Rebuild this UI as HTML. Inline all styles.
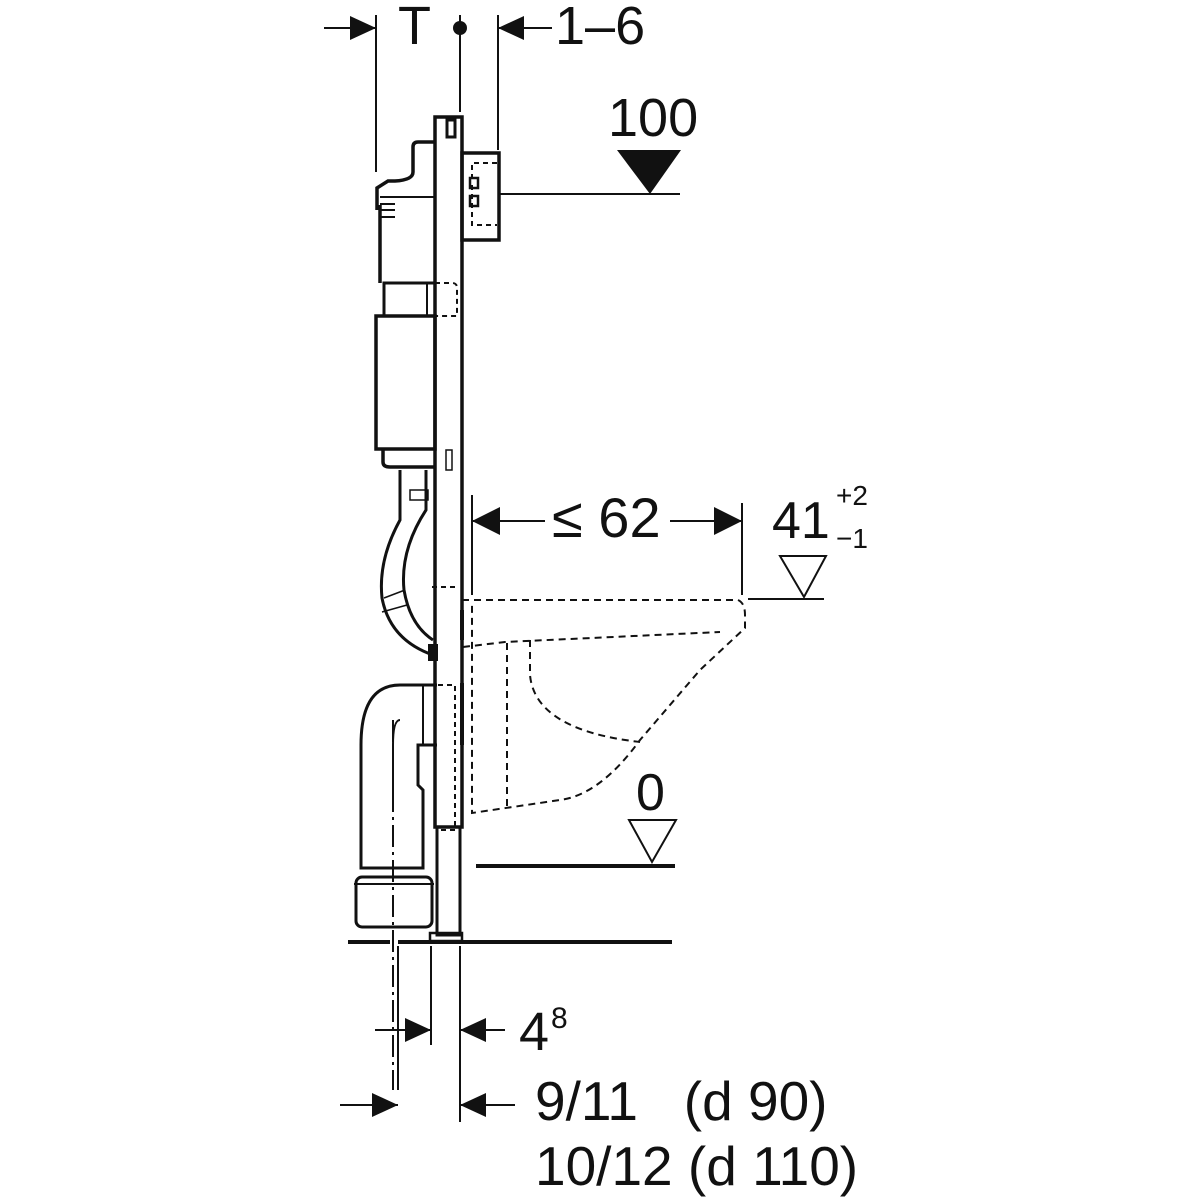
<!DOCTYPE html>
<html><head><style>body{margin:0;background:#fff}svg{display:block}text{font-family:"Liberation Sans",sans-serif;fill:#111}</style></head><body>
<svg width="1200" height="1200" viewBox="0 0 1200 1200" xmlns="http://www.w3.org/2000/svg">
<g stroke="#111" fill="none" stroke-width="2">
<line x1="376" y1="15" x2="376" y2="172"/>
<line x1="460" y1="15" x2="460" y2="112"/>
<line x1="498" y1="15" x2="498" y2="150"/>
<line x1="324" y1="28" x2="376" y2="28"/>
<line x1="498" y1="28" x2="552" y2="28"/>
<rect x="435" y="117" width="27" height="710" stroke-width="3.5"/>
<rect x="437" y="827" width="23" height="108" stroke-width="3"/>
<rect x="430" y="933" width="32" height="8" stroke-width="2.5"/>
<rect x="447" y="120" width="8" height="17" stroke-width="3"/>
<rect x="446" y="450" width="6" height="20" stroke-width="1.5"/>
<path d="M435 142 H418 Q413 142 413 147 V172 Q413 180 395 181 H388 L377 188 V210" stroke-width="3.5"/>
<line x1="380" y1="205" x2="380" y2="283" stroke-width="3.5"/>
<line x1="380" y1="197" x2="435" y2="197"/>
<line x1="380" y1="204" x2="395" y2="204"/>
<line x1="380" y1="210" x2="395" y2="210"/>
<line x1="380" y1="217" x2="395" y2="217"/>
<rect x="384" y="283" width="51" height="33" stroke-width="3"/>
<rect x="427" y="283" width="8" height="33"/>
<path d="M435 283 H452 Q457 283 457 288 V316 H435" stroke-dasharray="5,4"/>
<rect x="376" y="316" width="59" height="133" stroke-width="3.5"/>
<path d="M383 449 V462 Q383 467 390 467 H435" stroke-width="3.5"/>
<rect x="462" y="153" width="37" height="87" stroke-width="3.5"/>
<path d="M497 163 H472 V180 M472 185 V225 H497" stroke-dasharray="5,4"/>
<line x1="500" y1="194" x2="680" y2="194"/>
<rect x="470" y="178" width="8" height="10" stroke-width="2.5"/><rect x="470" y="196" width="8" height="10" stroke-width="2.5"/>
<path d="M400 470 V520 Q378 560 382 598 Q390 640 433 655" stroke-width="3"/>
<path d="M426 470 V510 Q400 550 404 590 Q410 625 433 640" stroke-width="3"/>
<path d="M410 490 H428 V500 H410Z M384 598 L405 590 M382 612 L407 605" stroke-width="1.5"/>
<rect x="429" y="645" width="8" height="15" fill="#111"/>
<line x1="432" y1="587" x2="455" y2="587" stroke-dasharray="5,4"/>
<path d="M437 685 H400 Q361 685 361 745 V868 H423 V790 L418 785 V745 H437" stroke-width="3"/>
<path d="M400 720 Q393 720 393 745 V800" stroke-width="2"/>
<line x1="423" y1="685" x2="423" y2="745" stroke-width="2"/>
<rect x="356" y="877" width="76" height="50" rx="6" stroke-width="3"/>
<line x1="354" y1="884" x2="434" y2="884"/>
<line x1="393" y1="720" x2="393" y2="1090" stroke-dasharray="22,5,3,5"/>
<path d="M438 685 H455 V830 H438" stroke-dasharray="5,4"/>
<line x1="462" y1="610" x2="462" y2="640" stroke-width="4"/>
<line x1="462" y1="683" x2="462" y2="745" stroke-width="4"/>
<line x1="348" y1="942" x2="390" y2="942" stroke-width="4"/>
<line x1="398" y1="942" x2="672" y2="942" stroke-width="4"/>
<line x1="476" y1="866" x2="675" y2="866" stroke-width="4"/>
<g stroke-dasharray="7,5">
<path d="M462 600 H738 Q745 603 745 615 V628 L700 670 L640 740 Q600 795 560 800 L472 813 V602"/>
<path d="M463 647 L505 642 L720 632"/>
<path d="M507 643 V810"/>
<path d="M530 640 V675 Q535 730 640 742"/>
</g>
<line x1="748" y1="599" x2="824" y2="599"/>
<line x1="472" y1="495" x2="472" y2="595"/>
<line x1="742" y1="503" x2="742" y2="595"/>
<line x1="472" y1="521" x2="545" y2="521"/>
<line x1="670" y1="521" x2="742" y2="521"/>
<path d="M780 556 H826 L804 597Z"/>
<path d="M629 820 H676 L652 862Z"/>
<line x1="398" y1="946" x2="398" y2="1090"/>
<line x1="431" y1="946" x2="431" y2="1045"/>
<line x1="460" y1="946" x2="460" y2="1122"/>
<line x1="375" y1="1030" x2="431" y2="1030"/>
<line x1="460" y1="1030" x2="505" y2="1030"/>
<line x1="340" y1="1105" x2="398" y2="1105"/>
<line x1="460" y1="1105" x2="515" y2="1105"/>
</g>
<g fill="#111">
<circle cx="460" cy="28" r="7"/>
<path d="M376 28 L350 16 V40Z"/>
<path d="M498 28 L524 16 V40Z"/>
<path d="M472 521 L500 507 V535Z"/>
<path d="M742 521 L714 507 V535Z"/>
<path d="M617 150 H681 L650 194Z"/>
<path d="M431 1030 L405 1018 V1042Z"/>
<path d="M460 1030 L486 1018 V1042Z"/>
<path d="M398 1105 L372 1093 V1117Z"/>
<path d="M460 1105 L486 1093 V1117Z"/>
</g>
<text x="398" y="44" font-size="54">T</text>
<text x="555" y="44" font-size="54">1–6</text>
<text x="608" y="136" font-size="54">100</text>
<text x="552" y="537" font-size="56">≤ 62</text>
<text x="772" y="538" font-size="52">41</text>
<text x="836" y="505" font-size="28">+2</text>
<text x="836" y="548" font-size="28">−1</text>
<text x="636" y="810" font-size="52">0</text>
<text x="519" y="1050" font-size="54">4</text>
<text x="551" y="1028" font-size="30">8</text>
<text x="535" y="1120" font-size="55" xml:space="preserve">9/11   (d 90)</text>
<text x="535" y="1185" font-size="55">10/12 (d 110)</text>
</svg>
</body></html>
